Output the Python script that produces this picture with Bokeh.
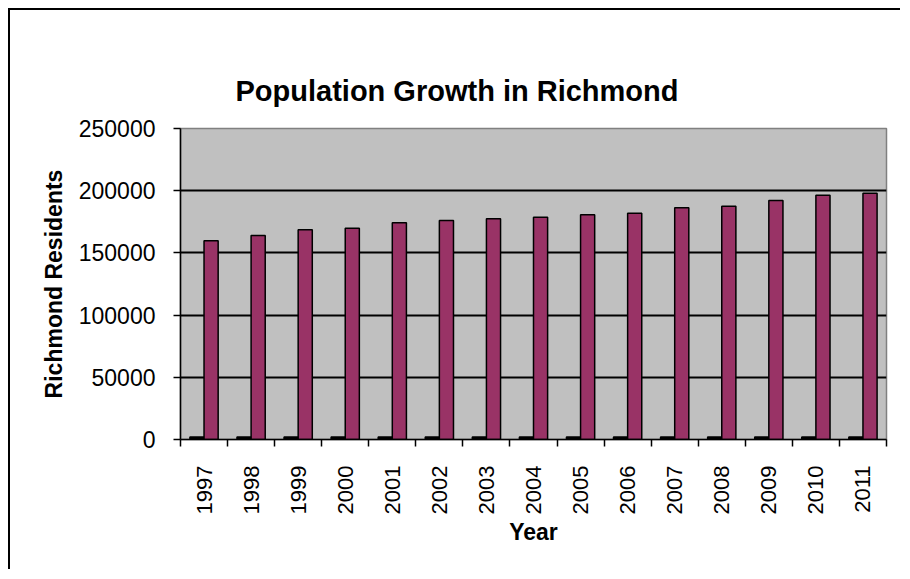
import numpy as np
from bokeh.plotting import figure
from bokeh.models import (ColumnDataSource, FixedTicker, BasicTickFormatter,
                          Range1d, Title, LinearAxis)
from bokeh.transform import dodge
from bokeh.embed import file_html
from bokeh.resources import INLINE

# ---- data ----
years = [1997, 1998, 1999, 2000, 2001, 2002, 2003, 2004,
         2005, 2006, 2007, 2008, 2009, 2010, 2011]
year_series = [1997, 1998, 1999, 2000, 2001, 2002, 2003, 2004,
               2005, 2006, 2007, 2008, 2009, 2010, 2011]
residents = [159700, 164000, 168600, 169900, 174200, 176000, 177400, 178700,
             180600, 181900, 186200, 187500, 192100, 196400, 198000]
y_ticks = [0, 50000, 100000, 150000, 200000, 250000]

FONT = "Liberation Sans"

n = len(years)
centers = np.arange(n) + 0.5
src = ColumnDataSource(dict(x=centers, yr=year_series, res=residents))

p = figure(width=892, height=561, output_backend="svg", toolbar_location=None,
           x_range=Range1d(0, n), y_range=Range1d(0, 250000),
           min_border_left=170, min_border_right=16,
           min_border_top=118, min_border_bottom=132,
           background_fill_color="#C0C0C0", border_fill_color="white",
           title=None)
p.styles = {"border-left": "2px solid #000000", "border-top": "2px solid #000000",
            "margin-left": "8px", "margin-top": "8px"}

p.outline_line_color = "#808080"
p.outline_line_width = 1.5

# bars
p.vbar(x=dodge("x", -0.15), top="yr", width=0.3, source=src,
       fill_color="black", line_color="black", line_width=1.5)
p.vbar(x=dodge("x", 0.15), top="res", width=0.3, source=src,
       fill_color="#993366", line_color="black", line_width=1.5)

# grid
p.xgrid.visible = False
p.ygrid.ticker = FixedTicker(ticks=y_ticks)
p.ygrid.grid_line_color = "black"
p.ygrid.grid_line_width = 1.8

# y axis
ya = p.yaxis[0]
ya.ticker = FixedTicker(ticks=y_ticks)
ya.formatter = BasicTickFormatter(use_scientific=False)
ya.axis_line_color = "black"
ya.axis_line_width = 1.5
ya.major_tick_line_color = "black"
ya.major_tick_line_width = 1.5
ya.major_tick_out = 7
ya.major_tick_in = 0
ya.minor_tick_line_color = None
ya.major_label_standoff = 18
ya.major_label_text_font = FONT
ya.major_label_text_font_size = "23px"
ya.major_label_text_color = "black"
ya.axis_label = "Richmond Residents"
ya.axis_label_text_font = FONT
ya.axis_label_text_font_style = "bold"
ya.axis_label_text_font_size = "23px"
ya.axis_label_text_color = "black"
ya.axis_label_standoff = 9

# x axis: labels at category centers, tick marks at category boundaries
xa = p.xaxis[0]
xa.ticker = FixedTicker(ticks=list(centers), minor_ticks=list(range(n + 1)))
xa.major_label_overrides = {float(c): str(y) for c, y in zip(centers, years)}
xa.major_label_orientation = np.pi / 2
xa.axis_line_color = "black"
xa.axis_line_width = 1.5
xa.major_tick_line_color = None
xa.major_tick_out = 0
xa.major_tick_in = 0
xa.minor_tick_line_color = "black"
xa.minor_tick_line_width = 1.5
xa.minor_tick_out = 7
xa.minor_tick_in = 0
xa.major_label_standoff = 19
xa.major_label_text_font = FONT
xa.major_label_text_font_size = "22px"
xa.major_label_text_color = "black"
xa.axis_label = "Year"
xa.axis_label_text_font = FONT
xa.axis_label_text_font_style = "bold"
xa.axis_label_text_font_size = "23px"
xa.axis_label_text_color = "black"
xa.axis_label_standoff = 2

# empty spacer above the frame (no ticks drawn, no labels) to lift the title
spacer = LinearAxis(ticker=FixedTicker(ticks=[]), axis_line_color=None,
                    major_tick_line_color="white", minor_tick_line_color=None,
                    major_tick_out=43, major_tick_in=0, minor_tick_out=0,
                    major_label_standoff=0)
p.add_layout(spacer, "above")

# title (outermost item of the top panel)
p.add_layout(Title(text="Population Growth in Richmond", align="left", offset=55,
                   vertical_align="top",
                   text_font=FONT, text_font_style="bold", text_font_size="29px",
                   text_color="black", standoff=40), "above")

open("out.html", "w").write(file_html(p, INLINE))
